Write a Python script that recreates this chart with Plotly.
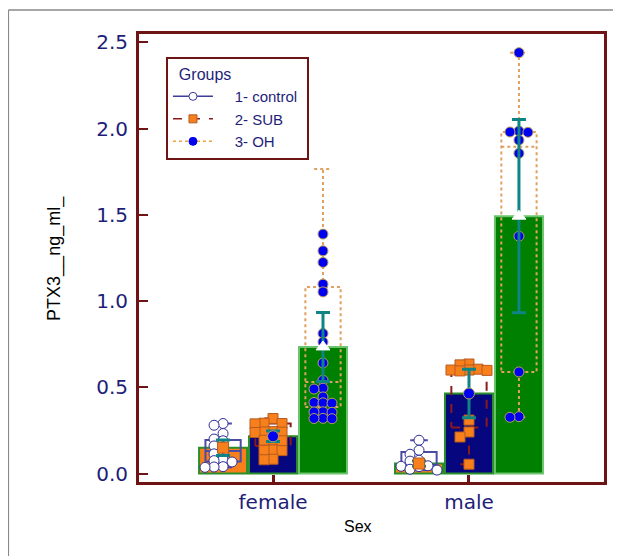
import plotly.graph_objects as go

# ---------------- data ----------------
categories = ["female", "male"]
groups = ["1- control", "2- SUB", "3- OH"]

# bar heights (means) per group: [female, male]
mean_control = [0.150, 0.058]
mean_sub = [0.216, 0.464]
mean_oh = [0.734, 1.492]

# error bar half-lengths
err_control = [0.045, 0.015]
err_sub = [0.030, 0.140]
err_oh = [0.200, 0.560]

# box statistics [female, male]
lo_control = [0.036, 0.020]
q1_control = [0.070, 0.030]
med_control = [0.130, 0.050]
q3_control = [0.195, 0.125]
hi_control = [0.290, 0.193]

lo_sub = [0.080, 0.054]
q1_sub = [0.160, 0.267]
med_sub = [0.240, 0.595]
q3_sub = [0.290, 0.600]
hi_sub = [0.319, 0.635]

lo_oh = [0.318, 0.326]
q1_oh = [0.386, 0.589]
med_oh = [0.531, 1.894]
q3_oh = [1.082, 1.980]
hi_oh = [1.765, 2.440]

# individual observations
pts_control_female = [0.290, 0.280, 0.232, 0.200, 0.190, 0.160, 0.155, 0.118,
                      0.114, 0.080, 0.075, 0.067, 0.040, 0.038, 0.036]
pts_control_male = [0.193, 0.135, 0.112, 0.077, 0.072, 0.045, 0.040, 0.042,
                    0.025, 0.020]
pts_sub_female = [0.319, 0.292, 0.290, 0.288, 0.243, 0.241, 0.240, 0.238,
                  0.195, 0.193, 0.190, 0.137, 0.135, 0.133, 0.083, 0.080]
pts_sub_male = [0.635, 0.630, 0.605, 0.600, 0.600, 0.598, 0.595, 0.310,
                0.241, 0.212, 0.054]
pts_oh_female = [1.388, 1.291, 1.224, 1.098, 1.053, 0.812, 0.763, 0.641,
                 0.541, 0.495, 0.490, 0.444, 0.412, 0.410, 0.408, 0.358,
                 0.357, 0.355, 0.320, 0.319, 0.318]
pts_oh_male = [2.440, 1.985, 1.980, 1.978, 1.933, 1.856, 1.376, 0.589,
               0.330, 0.326]

y_ticks = [0.0, 0.5, 1.0, 1.5, 2.0, 2.5]

# ---------------- layout constants ----------------
X_RANGE = [-0.684, 1.689]
Y_RANGE = [-0.049, 2.548]
PLOT_W, PLOT_H = 465, 448
SX = PLOT_W / (X_RANGE[1] - X_RANGE[0])
SY = PLOT_H / (Y_RANGE[1] - Y_RANGE[0])
OFFS = [-0.255, 0.0, 0.255]
BAR_W = 0.245
BOX_HW = 0.09
CAP_HW = 0.045

MAROON = "#6E1414"
NAVY_TXT = "#1E1E78"
TEAL = "#0E8484"
NB = "\u00a0"

style = {
    "1- control": dict(bar="#F7801C", bar_line="#2A8F2A", box="#4B4BA5", dash="solid",
                       pt=dict(symbol="circle", size=10, color="white",
                               line=dict(color="#2E2E9A", width=1)),
                       mean=dict(symbol="square", size=11, color="#F7801C",
                                 line=dict(color="#B85A20", width=1))),
    "2- SUB": dict(bar="#06067E", bar_line="#2A8F2A", box="#8B1A1A", dash="dash",
                   pt=dict(symbol="square", size=10, color="#F7801C",
                           line=dict(color="#B85A20", width=1)),
                   mean=dict(symbol="circle", size=11, color="#0000F0",
                             line=dict(color="#B8A060", width=1))),
    "3- OH": dict(bar="#008000", bar_line="#6CC46C", box="#E0A060", dash="dot",
                  pt=dict(symbol="circle", size=10, color="#0000F0",
                          line=dict(color="#B8A060", width=1)),
                  mean=dict(symbol="triangle-up", size=12, color="white",
                            line=dict(color="white", width=1))),
}

legend_style = {
    "1- control": dict(line=dict(color="#3C3C9C", width=1.5, dash="solid"),
                       marker=dict(symbol="circle", size=8, color="white",
                                   line=dict(color="#3C3C9C", width=1))),
    "2- SUB": dict(line=dict(color="#8B1A1A", width=1.5, dash="dash"),
                   marker=dict(symbol="square", size=8, color="#F7801C",
                               line=dict(color="#B85A20", width=1))),
    "3- OH": dict(line=dict(color="#F0A040", width=1.5, dash="dot"),
                  marker=dict(symbol="circle", size=8, color="#0000F0",
                              line=dict(color="#0000F0", width=1))),
}

means = {"1- control": mean_control, "2- SUB": mean_sub, "3- OH": mean_oh}
errs = {"1- control": err_control, "2- SUB": err_sub, "3- OH": err_oh}
boxes = {
    "1- control": (lo_control, q1_control, med_control, q3_control, hi_control),
    "2- SUB": (lo_sub, q1_sub, med_sub, q3_sub, hi_sub),
    "3- OH": (lo_oh, q1_oh, med_oh, q3_oh, hi_oh),
}
points = {
    "1- control": [pts_control_female, pts_control_male],
    "2- SUB": [pts_sub_female, pts_sub_male],
    "3- OH": [pts_oh_female, pts_oh_male],
}


def swarm(vals, center, dw=9.0, dh=6.0):
    placed = []
    xs = []
    cands = [0]
    for i in range(1, 10):
        cands += [-i, i]
    for v in vals:
        xo = 0.0
        for c in cands:
            xo = c * dw
            ok = True
            for px, pv in placed:
                dx = (xo - px) / dw
                dy = (v - pv) * SY / dh
                if dx * dx + dy * dy < 0.9:
                    ok = False
                    break
            if ok:
                break
        placed.append((xo, v))
        xs.append(center + xo / SX)
    return xs


fig = go.Figure()

# bars
for gi, g in enumerate(groups):
    st = style[g]
    fig.add_trace(go.Bar(
        x=[ci + OFFS[gi] for ci in range(len(categories))],
        y=means[g], width=BAR_W, showlegend=False, hoverinfo="skip",
        marker=dict(color=st["bar"], line=dict(color=st["bar_line"], width=2)),
    ))

# boxes, points, error bars and means
for gi, g in enumerate(groups):
    st = style[g]
    lo, q1, med, q3, hi = boxes[g]
    bx, by = [], []
    for ci in range(len(categories)):
        c = ci + OFFS[gi]
        xl, xr = c - BOX_HW, c + BOX_HW
        bx += [xl, xr, xr, xl, xl, None, xl, xr, None,
               c, c, None, c - CAP_HW, c + CAP_HW, None,
               c, c, None, c - CAP_HW, c + CAP_HW, None]
        by += [q1[ci], q1[ci], q3[ci], q3[ci], q1[ci], None, med[ci], med[ci], None,
               q3[ci], hi[ci], None, hi[ci], hi[ci], None,
               q1[ci], lo[ci], None, lo[ci], lo[ci], None]
    fig.add_trace(go.Scatter(
        x=bx, y=by, mode="lines", showlegend=False, hoverinfo="skip",
        line=dict(color=st["box"], width=2, dash=st["dash"]),
    ))
    for ci in range(len(categories)):
        vals = points[g][ci]
        fig.add_trace(go.Scatter(
            x=swarm(vals, ci + OFFS[gi]), y=vals, mode="markers",
            showlegend=False, marker=st["pt"],
        ))
    fig.add_trace(go.Scatter(
        x=[ci + OFFS[gi] for ci in range(len(categories))], y=means[g],
        mode="markers", showlegend=False, marker=st["mean"],
        error_y=dict(type="data", array=errs[g], color=TEAL, thickness=3, width=7),
    ))

# legend entries (leading/trailing no-break spaces only widen the legend box)
for gi, g in enumerate(groups):
    ls = legend_style[g]
    label = NB * 4 + g + (NB if gi == 0 else "")
    fig.add_trace(go.Scatter(x=[None], y=[None], mode="lines+markers", name=label,
                             line=ls["line"], marker=ls["marker"]))

fig.update_layout(
    width=613, height=548,
    margin=dict(l=131, r=17, t=26, b=74),
    paper_bgcolor="white", plot_bgcolor="white",
    barmode="overlay",
    showlegend=True,
    legend=dict(
        x=0.058, y=0.948, xanchor="left", yanchor="top",
        bgcolor="white", bordercolor=MAROON, borderwidth=2,
        font=dict(family="Liberation Sans, Arial", size=15, color=NAVY_TXT),
        title=dict(text=NB * 2 + "Groups",
                   font=dict(family="Liberation Sans, Arial", size=16, color=NAVY_TXT)),
        itemwidth=40, tracegroupgap=0,
    ),
    xaxis=dict(
        range=X_RANGE, tickvals=list(range(len(categories))), ticktext=categories,
        ticks="inside", ticklen=7, tickwidth=3, tickcolor=MAROON,
        showline=True, linecolor=MAROON, linewidth=3, mirror=True,
        showgrid=False, zeroline=False,
        tickfont=dict(family="DejaVu Sans", size=20, color=NAVY_TXT),
    ),
    yaxis=dict(
        range=Y_RANGE, tickvals=y_ticks, tickformat=".1f",
        ticks="inside", ticklen=9, tickwidth=2, tickcolor=MAROON,
        showline=True, linecolor=MAROON, linewidth=3, mirror=True,
        showgrid=False, zeroline=False, ticklabelstandoff=4,
        tickfont=dict(family="DejaVu Sans", size=20, color=NAVY_TXT),
    ),
    annotations=[
        dict(text="PTX3__ng_ml_", xref="paper", yref="paper", x=-0.183, y=0.50,
             textangle=-90, showarrow=False, xanchor="center", yanchor="middle",
             font=dict(family="Liberation Sans, Arial", size=18, color="black")),
        dict(text="Sex", xref="paper", yref="paper", x=0.471, y=-0.100,
             showarrow=False, xanchor="center", yanchor="middle",
             font=dict(family="Liberation Sans, Arial", size=16, color="black")),
    ],
    shapes=[
        dict(type="line", xref="paper", yref="paper", x0=-0.281, x1=1.05,
             y0=1.0536, y1=1.0536, line=dict(color="#8A8A8A", width=1.5)),
        dict(type="line", xref="paper", yref="paper", x0=-0.281, x1=-0.281,
             y0=1.0536, y1=-0.2, line=dict(color="#8A8A8A", width=1.5)),
    ],
)

fig.write_html("out.html")
